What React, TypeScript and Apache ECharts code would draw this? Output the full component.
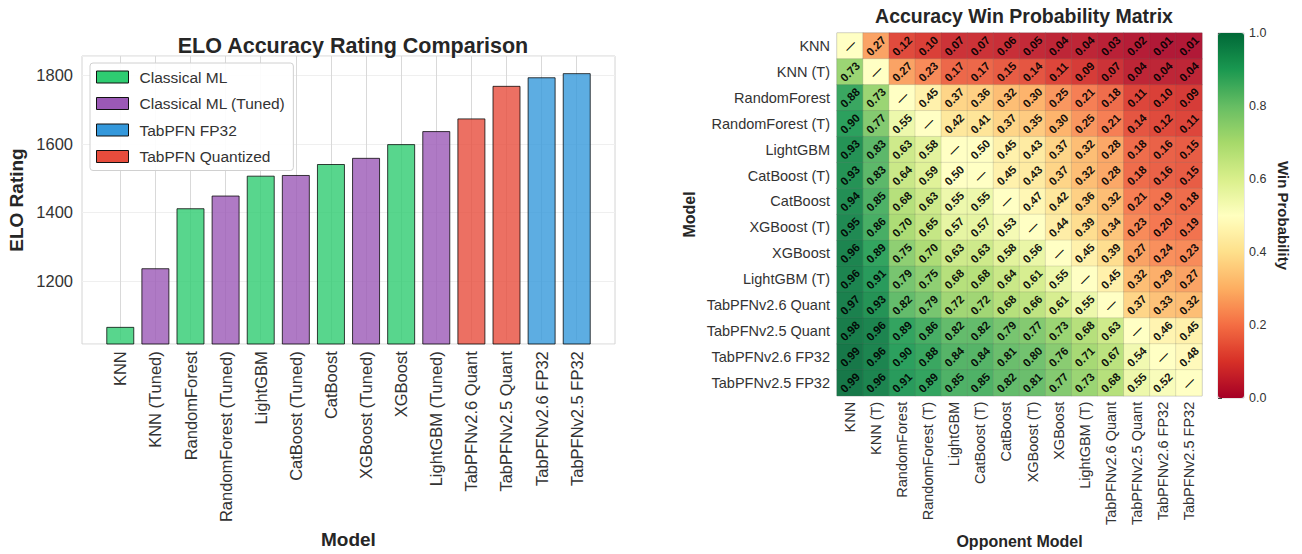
import React, { useEffect, useRef } from "react";
import * as echarts from "echarts";

const FONT = "'Liberation Sans', Arial, sans-serif";

const categories = [
  "KNN", "KNN (Tuned)", "RandomForest", "RandomForest (Tuned)", "LightGBM",
  "CatBoost (Tuned)", "CatBoost", "XGBoost (Tuned)", "XGBoost", "LightGBM (Tuned)",
  "TabPFNv2.6 Quant", "TabPFNv2.5 Quant", "TabPFNv2.6 FP32", "TabPFNv2.5 FP32",
];
const eloValues = [1066, 1237, 1412, 1449, 1507, 1509, 1541, 1559, 1599, 1637, 1674, 1769, 1794, 1806];
const barGroups = [
  "Classical ML", "Classical ML (Tuned)", "Classical ML", "Classical ML (Tuned)", "Classical ML",
  "Classical ML (Tuned)", "Classical ML", "Classical ML (Tuned)", "Classical ML", "Classical ML (Tuned)",
  "TabPFN Quantized", "TabPFN Quantized", "TabPFN FP32", "TabPFN FP32",
];
const groupNames = ["Classical ML", "Classical ML (Tuned)", "TabPFN FP32", "TabPFN Quantized"];
const groupColors = ["#2ecc71", "#9b59b6", "#3498db", "#e74c3c"];

const matrixLabels = [
  "KNN", "KNN (T)", "RandomForest", "RandomForest (T)", "LightGBM", "CatBoost (T)", "CatBoost",
  "XGBoost (T)", "XGBoost", "LightGBM (T)", "TabPFNv2.6 Quant", "TabPFNv2.5 Quant",
  "TabPFNv2.6 FP32", "TabPFNv2.5 FP32",
];
const winMatrix: (number | null)[][] = [
  [null, 0.27, 0.12, 0.10, 0.07, 0.07, 0.06, 0.05, 0.04, 0.04, 0.03, 0.02, 0.01, 0.01],
  [0.73, null, 0.27, 0.23, 0.17, 0.17, 0.15, 0.14, 0.11, 0.09, 0.07, 0.04, 0.04, 0.04],
  [0.88, 0.73, null, 0.45, 0.37, 0.36, 0.32, 0.30, 0.25, 0.21, 0.18, 0.11, 0.10, 0.09],
  [0.90, 0.77, 0.55, null, 0.42, 0.41, 0.37, 0.35, 0.30, 0.25, 0.21, 0.14, 0.12, 0.11],
  [0.93, 0.83, 0.63, 0.58, null, 0.50, 0.45, 0.43, 0.37, 0.32, 0.28, 0.18, 0.16, 0.15],
  [0.93, 0.83, 0.64, 0.59, 0.50, null, 0.45, 0.43, 0.37, 0.32, 0.28, 0.18, 0.16, 0.15],
  [0.94, 0.85, 0.68, 0.63, 0.55, 0.55, null, 0.47, 0.42, 0.36, 0.32, 0.21, 0.19, 0.18],
  [0.95, 0.86, 0.70, 0.65, 0.57, 0.57, 0.53, null, 0.44, 0.39, 0.34, 0.23, 0.20, 0.19],
  [0.96, 0.89, 0.75, 0.70, 0.63, 0.63, 0.58, 0.56, null, 0.45, 0.39, 0.27, 0.24, 0.23],
  [0.96, 0.91, 0.79, 0.75, 0.68, 0.68, 0.64, 0.61, 0.55, null, 0.45, 0.32, 0.29, 0.27],
  [0.97, 0.93, 0.82, 0.79, 0.72, 0.72, 0.68, 0.66, 0.61, 0.55, null, 0.37, 0.33, 0.32],
  [0.98, 0.96, 0.89, 0.86, 0.82, 0.82, 0.79, 0.77, 0.73, 0.68, 0.63, null, 0.46, 0.45],
  [0.99, 0.96, 0.90, 0.88, 0.84, 0.84, 0.81, 0.80, 0.76, 0.71, 0.67, 0.54, null, 0.48],
  [0.99, 0.96, 0.91, 0.89, 0.85, 0.85, 0.82, 0.81, 0.77, 0.73, 0.68, 0.55, 0.52, null],
];
const rdYlGn = [
  "#a50026", "#d73027", "#f46d43", "#fdae61", "#fee08b", "#ffffbf",
  "#d9ef8b", "#a6d96a", "#66bd63", "#1a9850", "#006837",
];

function hexToRgba(hex: string, a: number) {
  const n = parseInt(hex.slice(1), 16);
  return `rgba(${(n >> 16) & 255},${(n >> 8) & 255},${n & 255},${a})`;
}

export default function App() {
  const ref = useRef<HTMLDivElement>(null);
  useEffect(() => {
    if (!ref.current) return;
    const chart = echarts.init(ref.current, null, { renderer: "svg" });
    const yMin = Math.min(...eloValues) - 50;
    const yMax = Math.max(...eloValues) + 50;
    const xPad = 0.69; // matplotlib-like 5% margin around bars
    const barHalf = 0.4;

    const heatData: any[] = [];
    winMatrix.forEach((row, r) =>
      row.forEach((v, c) => {
        heatData.push({ value: [c, r, v === null ? 0.5 : v], diag: v === null });
      })
    );

    const barSeries = groupNames.map((g, gi) => ({
      name: g,
      type: "bar",
      xAxisIndex: 0,
      yAxisIndex: 0,
      barWidth: 28,
      barGap: "-100%",
      z: 3,
      itemStyle: {
        color: hexToRgba(groupColors[gi], 0.8),
        borderColor: "rgba(0,0,0,0.75)",
        borderWidth: 1,
      },
      data: eloValues
        .map((v, i) => (barGroups[i] === g ? [i, v] : null))
        .filter((d) => d !== null),
    }));

    const axisNameStyle = { fontFamily: FONT, fontWeight: "bold", color: "#262626" };

    chart.setOption({
      animation: false,
      textStyle: { fontFamily: FONT },
      title: [
        {
          text: "ELO Accuracy Rating Comparison",
          left: 348, top: 30, textAlign: "center",
          textStyle: { fontFamily: FONT, fontSize: 21.5, fontWeight: "bold", color: "#262626" },
        },
        {
          text: "Accuracy Win Probability Matrix",
          left: 1019, top: 1, textAlign: "center",
          textStyle: { fontFamily: FONT, fontSize: 19.5, fontWeight: "bold", color: "#262626" },
        },
      ],
      legend: {
        orient: "vertical",
        left: 90, top: 63,
        padding: [6, 8, 6, 6],
        itemWidth: 32, itemHeight: 12, itemGap: 10.5,
        backgroundColor: "rgba(255,255,255,0.9)",
        borderColor: "#d0d0d0", borderWidth: 1, borderRadius: 3,
        icon: "rect",
        textStyle: { fontFamily: FONT, fontSize: 15.5, color: "#333", padding: [0, 0, 0, 6] },
        data: groupNames.map((g, gi) => ({
          name: g,
          itemStyle: { color: groupColors[gi], borderColor: "#111", borderWidth: 1 },
        })),
      },
      grid: [
        { left: 82, top: 56, width: 533, height: 288, show: true, borderColor: "#d4d4d4", borderWidth: 1, backgroundColor: "#fff" },
        { left: 120.3, top: 56, width: 456.3, height: 288, show: false },
        { left: 837, top: 33, width: 365, height: 365, show: true, borderColor: "#cfcfcf", borderWidth: 1 },
        { left: 1218, top: 33, width: 26, height: 365, show: true, borderColor: "#cfcfcf", borderWidth: 1 },
      ],
      xAxis: [
        {
          gridIndex: 0, type: "value",
          min: -barHalf - xPad, max: categories.length - 1 + barHalf + xPad,
          show: false,
        },
        {
          gridIndex: 1, type: "category", data: categories, boundaryGap: false,
          axisLine: { show: false }, axisTick: { show: false },
          axisLabel: { rotate: 90, fontSize: 16.5, color: "#333", margin: 11, fontFamily: FONT, interval: 0 },
          splitLine: { show: true, interval: 0, lineStyle: { color: "#d9d9d9", width: 1 } },
          name: "Model", nameLocation: "middle", nameGap: 188,
          nameTextStyle: { ...axisNameStyle, fontSize: 19 },
        },
        {
          gridIndex: 2, type: "category", data: matrixLabels,
          axisLine: { show: false }, axisTick: { show: false },
          axisLabel: { rotate: 90, fontSize: 14.5, color: "#333", margin: 6, fontFamily: FONT, interval: 0 },
          name: "Opponent Model", nameLocation: "middle", nameGap: 134,
          nameTextStyle: { ...axisNameStyle, fontSize: 16 },
        },
        { gridIndex: 3, type: "value", show: false, min: 0, max: 1 },
      ],
      yAxis: [
        {
          gridIndex: 0, type: "value", min: yMin, max: yMax,
          axisLine: { show: false }, axisTick: { show: false },
          axisLabel: {
            fontSize: 16.5, color: "#333", margin: 9, showMinLabel: false, showMaxLabel: false,
            fontFamily: FONT, formatter: (v: number) => String(v),
          },
          splitLine: { show: true, lineStyle: { color: "#efefef", width: 1 } },
          name: "ELO Rating", nameLocation: "middle", nameGap: 56,
          nameTextStyle: { ...axisNameStyle, fontSize: 19 },
        },
        { gridIndex: 1, type: "value", min: yMin, max: yMax, show: false },
        {
          gridIndex: 2, type: "category", data: matrixLabels, inverse: true,
          axisLine: { show: false }, axisTick: { show: false },
          axisLabel: { fontSize: 14.5, color: "#333", margin: 7, fontFamily: FONT, interval: 0 },
          name: "Model", nameLocation: "middle", nameGap: 140,
          nameTextStyle: { ...axisNameStyle, fontSize: 16 },
        },
        {
          gridIndex: 3, type: "value", min: 0, max: 1, interval: 0.2, position: "right",
          axisLine: { show: false },
          axisTick: { show: true, length: 4, lineStyle: { color: "#444" } },
          axisLabel: { fontSize: 12.5, color: "#333", margin: 5, fontFamily: FONT, formatter: (v: number) => v.toFixed(1) },
          splitLine: { show: false },
          name: "Win Probability", nameLocation: "middle", nameGap: 32, nameRotate: -90,
          nameTextStyle: { ...axisNameStyle, fontSize: 15 },
        },
      ],
      visualMap: {
        type: "continuous",
        min: 0, max: 1,
        seriesIndex: 4,
        calculable: false,
        show: true,
        left: 1218, top: 33,
        itemWidth: 26, itemHeight: 365,
        padding: 0,
        inRange: { color: rdYlGn },
      },
      series: [
        ...barSeries,
        {
          type: "heatmap",
          xAxisIndex: 2,
          yAxisIndex: 2,
          data: heatData,
          itemStyle: { borderColor: "rgba(120,120,120,0.35)", borderWidth: 0.6, opacity: 0.92 },
          label: {
            show: true,
            rotate: 45,
            fontFamily: FONT,
            fontSize: 11.5,
            fontWeight: "bold",
            color: "#000",
            formatter: (p: any) => (p.data.diag ? "—" : p.data.value[2].toFixed(2)),
          },
          emphasis: { disabled: true },
        },
      ],
    });
    return () => chart.dispose();
  }, []);
  return (
    <div
      ref={ref}
      style={{ position: "fixed", left: 0, top: 0, width: 1302, height: 554, background: "#fff" }}
    />
  );
}
